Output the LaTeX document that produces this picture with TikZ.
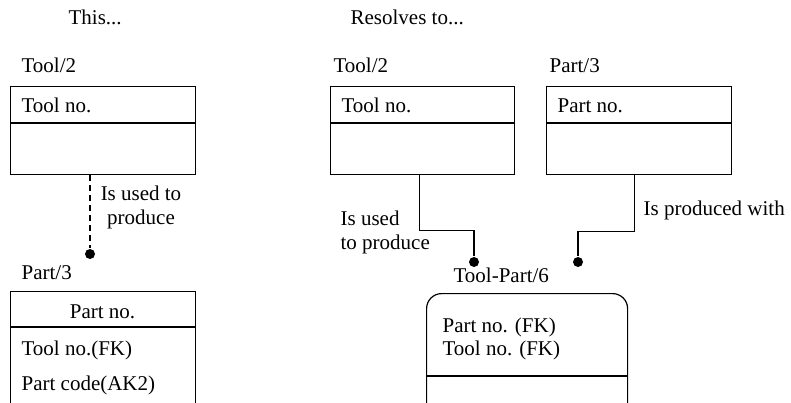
\documentclass[tikz,border=0pt]{standalone}
\usepackage{fontspec}
\setmainfont{Liberation Serif}
\usetikzlibrary{positioning}

\begin{document}
\begin{tikzpicture}[x=1pt,y=-1pt,line width=1.2pt,font=\fontsize{21}{24.5}\selectfont,
	entity/.style={draw,anchor=north west,minimum width=185pt,minimum height=88pt,inner sep=0pt},
	lbl/.style={anchor=base west,inner sep=0pt},
	dot/.style={circle,fill,inner sep=0pt,minimum size=10pt}]
	\useasboundingbox (0,0) rectangle (791,403);
	\clip (0,0) rectangle (791,403);
	\node[lbl] (this) at (68,25) {This...};
	\node[lbl] (resolves) at (350,25) {Resolves to...};
	% before: tool and part linked directly
	\node[lbl] (toolAname) at (21,73) {Tool/2};
	\node[entity] (toolA) at (10,86) {};
	\draw[line width=1.6pt] ([yshift=-37pt]toolA.north west) -- ([yshift=-37pt]toolA.north east);
	\node[lbl] (toolAkey) at (21,113) {Tool no.};
	\node[dot] (dotA) at (90,254) {};
	\draw[dash pattern=on 6pt off 4pt] (toolA.south -| dotA) -- (dotA);
	\node[align=center,anchor=north,inner sep=0pt] (usesA) at (141,185) {Is used to\\produce};
	\node[lbl] (partAname) at (21,279) {Part/3};
	\node[entity,minimum height=130pt] (partA) at (10,291) {};
	\draw[line width=1.6pt] ([yshift=-36pt]partA.north west) -- ([yshift=-36pt]partA.north east);
	\node[anchor=base,inner sep=0pt] (partAkey) at (102.5,318) {Part no.};
	\node[lbl] (partAfk) at (21,355) {Tool no.(FK)};
	\node[lbl] (partAak) at (21,390) {Part code(AK2)};
	% after: associative entity in between
	\node[lbl] (toolBname) at (333,73) {Tool/2};
	\node[entity,minimum width=184pt] (toolB) at (330,86) {};
	\draw[line width=1.6pt] ([yshift=-37pt]toolB.north west) -- ([yshift=-37pt]toolB.north east);
	\node[lbl] (toolBkey) at (341,113) {Tool no.};
	\node[lbl] (partBname) at (549,73) {Part/3};
	\node[entity] (partB) at (546,86) {};
	\draw[line width=1.6pt] ([yshift=-37pt]partB.north west) -- ([yshift=-37pt]partB.north east);
	\node[lbl] (partBkey) at (557,113) {Part no.};
	\node[lbl] (linkname) at (453,282) {Tool-Part/6};
	\node[draw,rounded corners=15pt,anchor=north west,minimum width=201pt,minimum height=130pt,inner sep=0pt] (link) at (426,293) {};
	\draw[line width=1.6pt] ([yshift=-83pt]link.north west) -- ([yshift=-83pt]link.north east);
	\node[lbl] (linkpart) at (442,332) {Part no. (FK)};
	\node[lbl] (linktool) at (442,355) {Tool no. (FK)};
	\node[dot] (dotB) at (474,262) {};
	\node[dot] (dotC) at (578,262) {};
	\draw ([xshift=-3pt]toolB.south) -- ++(0,55) -| (dotB);
	\draw ([xshift=-4.5pt]partB.south) -- ++(0,56) -| (dotC);
	\node[align=left,anchor=north west,inner sep=0pt] (usesB) at (340,210) {Is used\\to produce};
	\node[lbl] (producedB) at (643,215) {Is produced with};
\end{tikzpicture}
\end{document}
